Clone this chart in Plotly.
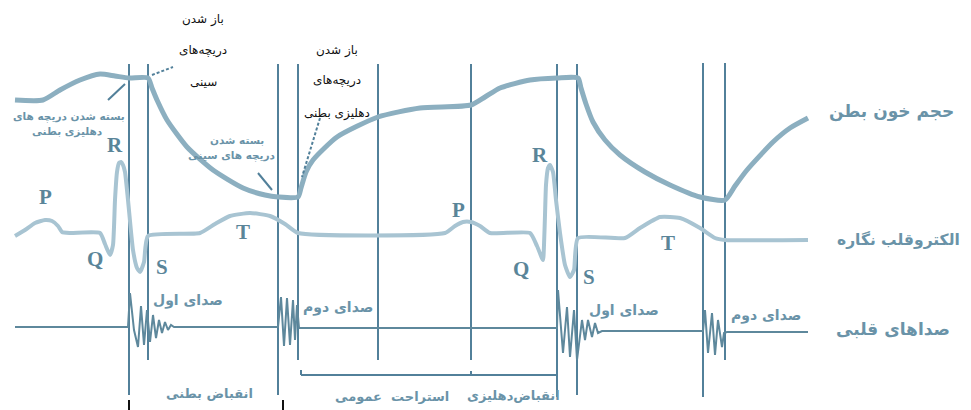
import plotly.graph_objects as go

W, H = 971, 410
PAGE_MARGIN = 8  # default body margin of the html page

# ---- Ventricular blood volume curve (pixel-space reading) ----
vol_x = [15, 43, 60, 80, 100, 115, 129, 148, 152, 157, 167, 187, 213, 243, 265, 278, 298,
         301, 306, 313, 337, 378, 420, 471, 485, 500, 530, 557, 578,
         581, 586, 593, 605, 620, 645, 670, 700, 725,
         735, 747, 773, 790, 808]
vol_y = [100, 100, 90, 80, 74, 76, 78, 78, 88, 100, 120, 147, 170, 188, 195, 197, 197,
         188, 172, 160, 137, 117, 108, 105, 97, 88, 80, 78, 78,
         88, 104, 122, 140, 155, 172, 185, 197, 200,
         186, 170, 142, 128, 118]

# ---- ECG curve ----
ecg_x = [15, 25, 35, 45, 52, 58, 62, 70, 100, 105, 110, 113, 115, 117, 119, 121, 123, 125,
         128, 133, 137, 140, 144, 148, 200, 215, 230, 250, 270, 285, 298,
         445, 455, 463, 471, 480, 490, 530, 537, 543, 544, 545, 546, 548, 550, 553, 556,
         560, 565, 570, 574, 578, 625, 640, 660, 680, 700, 715, 725, 808]
ecg_y = [236, 230, 223, 220, 221, 226, 232, 233, 233, 244, 255, 245, 200, 172, 163, 162, 165, 172,
         200, 250, 268, 272, 262, 236, 233, 224, 216, 213, 216, 224, 233,
         233, 226, 222, 222, 226, 233, 233, 246, 260, 245, 215, 185, 168, 165, 172, 200,
         233, 265, 277, 270, 238, 238, 228, 217, 218, 228, 238, 240, 240]

# ---- Heart sounds trace ----
snd_x = [15, 128, 130, 134, 138, 141, 144, 147, 150, 153, 156, 159, 162, 165, 168, 171, 174,
         278, 281, 284, 287, 290, 293, 295, 297, 299,
         557, 558, 563, 567, 570, 574, 577, 582, 585, 588, 592, 595, 598, 602,
         703, 705, 708, 712, 715, 718, 722, 724, 727, 808]
snd_y = [327, 327, 293, 330, 347, 306, 345, 310, 342, 315, 338, 320, 333, 322, 330, 325, 327,
         327, 297, 346, 298, 345, 300, 340, 305, 328,
         328, 290, 353, 307, 357, 310, 360, 320, 340, 320, 337, 323, 333, 331,
         331, 310, 353, 313, 355, 320, 347, 333, 332, 332]

# ---- Event (vertical) lines ----
vline_x = [129, 148, 278, 298, 378, 471, 557, 577, 703, 725]
vline_top = [64, 64, 64, 64, 64, 64, 64, 64, 63, 63]
vline_bot = [395, 360, 395, 360, 360, 360, 397, 395, 397, 360]

# ---- Labels ----
wave_letters = ["R", "P", "Q", "S", "T", "P", "R", "Q", "S", "T"]
wave_x = [115, 45, 95, 162, 243, 458, 540, 521, 589, 668]
wave_y = [145, 197, 259, 267, 232, 210, 155, 269, 277, 243]

trace_names = ["حجم خون بطن", "الکتروقلب نگاره", "صداهای قلبی"]
trace_name_x = [891, 898, 893]
trace_name_y = [111, 239, 329]
trace_name_size = [17, 15.5, 17]

sound_labels = ["صدای اول", "صدای دوم", "صدای اول", "صدای دوم"]
sound_x = [188, 338, 624, 766]
sound_y = [300, 307, 310, 315]

phase_labels = ["انقباض بطنی", "استراحت  عمومی", "انقباض‌دهلیزی"]
phase_x = [209, 392, 513]
phase_y = [393, 396, 395]

valve_black = ["باز شدن", "دریچه‌های", "سینی", "باز شدن", "دریچه‌های", "دهلیزی بطنی"]
valve_black_x = [203, 203, 203, 337, 337, 337]
valve_black_y = [19, 50, 82, 50, 80, 113]

valve_gray = ["بسته شدن دریچه های", "دهلیزی بطنی", "بسته شدن", "دریچه های سینی"]
valve_gray_x = [69, 67, 237, 232]
valve_gray_y = [116, 131, 140, 155]

LINE_DARK = "#52809a"
VOL_COL = "#8cafc0"
ECG_COL = "#a8c4d2"
SND_COL = "#5e889c"
LABEL_COL = "#6a93a8"

fig = go.Figure()

# vertical event lines
vx, vy = [], []
for x, t, b in zip(vline_x, vline_top, vline_bot):
    vx += [x, x, None]
    vy += [t, b, None]
fig.add_trace(go.Scatter(x=vx, y=vy, mode="lines", line=dict(color=LINE_DARK, width=2),
                         hoverinfo="skip", showlegend=False))

fig.add_trace(go.Scatter(x=vol_x, y=vol_y, mode="lines",
                         line=dict(color=VOL_COL, width=5, shape="spline", smoothing=0.6),
                         name=trace_names[0], showlegend=False))
fig.add_trace(go.Scatter(x=ecg_x, y=ecg_y, mode="lines",
                         line=dict(color=ECG_COL, width=4, shape="spline", smoothing=0.5),
                         name=trace_names[1], showlegend=False))
fig.add_trace(go.Scatter(x=snd_x, y=snd_y, mode="lines",
                         line=dict(color=SND_COL, width=2),
                         name=trace_names[2], showlegend=False))

# bracket for diastole / atrial contraction
br_x = [301, 301, None, 301, 557, None, 471, 471, None, 557, 557]
br_y = [370, 375, None, 375, 375, None, 371, 375, None, 375, 370]
fig.add_trace(go.Scatter(x=br_x, y=br_y, mode="lines", line=dict(color=LINE_DARK, width=2),
                         hoverinfo="skip", showlegend=False))

# black ticks at bottom
tk_x = [129, 129, None, 283, 283]
tk_y = [400, 410, None, 400, 410]
fig.add_trace(go.Scatter(x=tk_x, y=tk_y, mode="lines", line=dict(color="#111111", width=2),
                         hoverinfo="skip", showlegend=False))

# leader lines
fig.add_trace(go.Scatter(x=[108, 125], y=[100, 84], mode="lines",
                         line=dict(color=LINE_DARK, width=2), hoverinfo="skip", showlegend=False))
fig.add_trace(go.Scatter(x=[152, 173], y=[75, 67], mode="lines",
                         line=dict(color=LINE_DARK, width=2, dash="3px,2px"), hoverinfo="skip", showlegend=False))
fig.add_trace(go.Scatter(x=[258, 272], y=[173, 190], mode="lines",
                         line=dict(color=LINE_DARK, width=2), hoverinfo="skip", showlegend=False))
fig.add_trace(go.Scatter(x=[320, 302], y=[118, 177], mode="lines",
                         line=dict(color=LINE_DARK, width=2, dash="3px,2px"), hoverinfo="skip", showlegend=False))

ann = []
for t, x, y in zip(wave_letters, wave_x, wave_y):
    ann.append(dict(x=x, y=y, text="<b>%s</b>" % t, showarrow=False,
                    font=dict(family="Liberation Serif, DejaVu Serif, serif", size=21, color="#5a8599")))
for t, x, y, s in zip(trace_names, trace_name_x, trace_name_y, trace_name_size):
    ann.append(dict(x=x, y=y, text="<b>%s</b>" % t, showarrow=False,
                    font=dict(family="DejaVu Sans, sans-serif", size=s, color=LABEL_COL)))
for t, x, y in zip(sound_labels, sound_x, sound_y):
    ann.append(dict(x=x, y=y, text="<b>%s</b>" % t, showarrow=False,
                    font=dict(family="DejaVu Sans, sans-serif", size=14, color=LABEL_COL)))
for t, x, y in zip(phase_labels, phase_x, phase_y):
    ann.append(dict(x=x, y=y, text="<b>%s</b>" % t, showarrow=False,
                    font=dict(family="DejaVu Sans, sans-serif", size=13, color=LABEL_COL)))
for t, x, y in zip(valve_black, valve_black_x, valve_black_y):
    ann.append(dict(x=x, y=y, text=t, showarrow=False,
                    font=dict(family="DejaVu Sans, sans-serif", size=12, color="#111111")))
for t, x, y in zip(valve_gray, valve_gray_x, valve_gray_y):
    ann.append(dict(x=x, y=y, text="<b>%s</b>" % t, showarrow=False,
                    font=dict(family="DejaVu Sans, sans-serif", size=10.5, color=LABEL_COL)))

# The page puts the figure 8px in from the top-left corner, so the axes
# start at 8 to keep the data in window-pixel units.
fig.update_layout(
    width=W - PAGE_MARGIN, height=H - PAGE_MARGIN,
    margin=dict(l=0, r=0, t=0, b=0),
    paper_bgcolor="white", plot_bgcolor="white",
    xaxis=dict(range=[PAGE_MARGIN, W], visible=False, fixedrange=True),
    yaxis=dict(range=[H, PAGE_MARGIN], visible=False, fixedrange=True),
    annotations=ann,
    showlegend=False,
)

fig.write_html("out.html")
